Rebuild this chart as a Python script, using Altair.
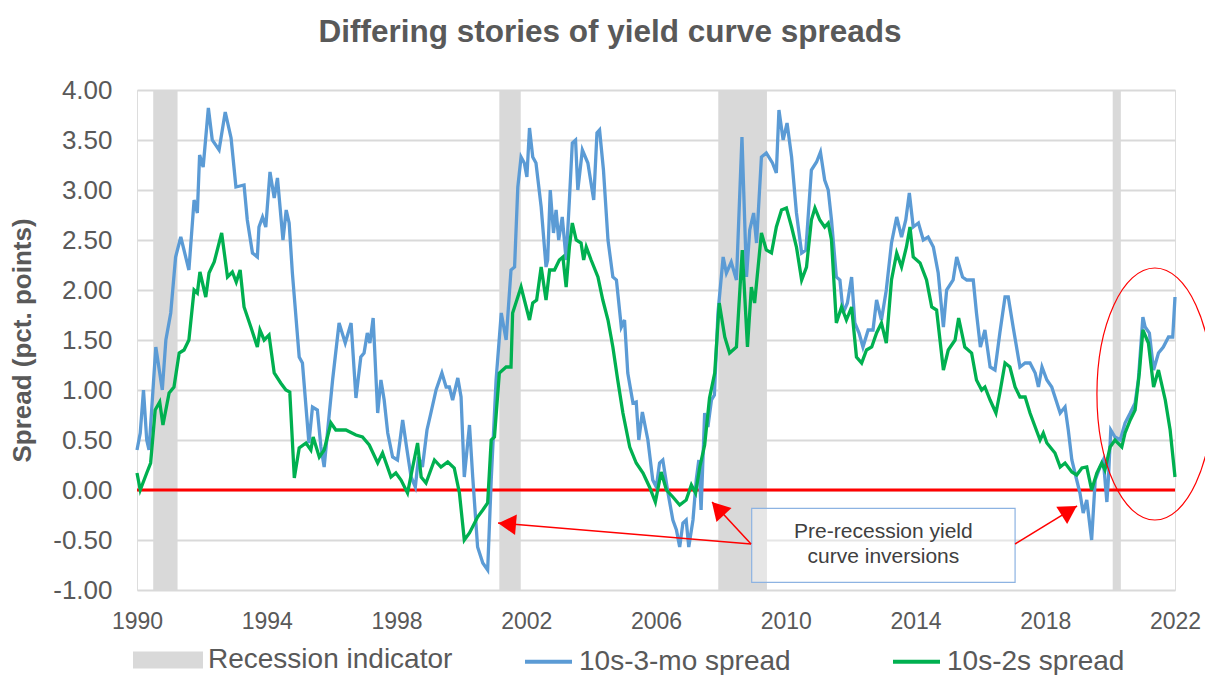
import altair as alt
import pandas as pd

# ---------------- data ----------------
blue_year = [1990.00, 1990.10, 1990.20, 1990.30, 1990.37, 1990.58, 1990.78, 1990.89, 1991.04, 1991.19,
             1991.35, 1991.60, 1991.76, 1991.86, 1991.93, 1992.04, 1992.20, 1992.32, 1992.53, 1992.72,
             1992.90, 1993.05, 1993.30, 1993.40, 1993.56, 1993.71, 1993.76, 1993.87, 1993.97, 1994.10,
             1994.23, 1994.33, 1994.50, 1994.60, 1994.69, 1994.79, 1995.00, 1995.10, 1995.30, 1995.41,
             1995.56, 1995.67, 1995.77, 1995.93, 1996.03, 1996.23, 1996.42, 1996.60, 1996.75, 1996.90,
             1997.00, 1997.10, 1997.18, 1997.28, 1997.42, 1997.52, 1997.62, 1997.73, 1997.88, 1998.03,
             1998.19, 1998.31, 1998.45, 1998.58, 1998.68, 1998.80, 1998.94, 1999.06, 1999.22, 1999.40,
             1999.53, 1999.63, 1999.73, 1999.89, 1999.99, 2000.09, 2000.25, 2000.35, 2000.50, 2000.66,
             2000.81, 2000.92, 2001.07, 2001.23, 2001.38, 2001.53, 2001.64, 2001.74, 2001.84, 2001.94,
             2002.02, 2002.10, 2002.20, 2002.30, 2002.46, 2002.61, 2002.66, 2002.74, 2002.84, 2002.92,
             2003.00, 2003.11, 2003.23, 2003.33, 2003.42, 2003.52, 2003.59, 2003.73, 2003.90, 2004.08,
             2004.18, 2004.26, 2004.38, 2004.52, 2004.67, 2004.78, 2004.93, 2005.03, 2005.13, 2005.29,
             2005.39, 2005.47, 2005.58, 2005.75, 2005.90, 2006.01, 2006.11, 2006.21, 2006.37, 2006.52,
             2006.63, 2006.73, 2006.83, 2006.93, 2007.01, 2007.14, 2007.24, 2007.32, 2007.39, 2007.50,
             2007.60, 2007.71, 2007.80, 2007.91, 2008.07, 2008.17, 2008.32, 2008.48, 2008.65, 2008.79,
             2008.89, 2009.01, 2009.10, 2009.25, 2009.40, 2009.59, 2009.71, 2009.79, 2009.92, 2010.04,
             2010.18, 2010.33, 2010.49, 2010.62, 2010.79, 2010.95, 2011.07, 2011.20, 2011.31, 2011.41,
             2011.56, 2011.67, 2011.77, 2011.90, 2012.03, 2012.13, 2012.26, 2012.38, 2012.54, 2012.69,
             2012.80, 2012.95, 2013.10, 2013.26, 2013.42, 2013.57, 2013.70, 2013.81, 2013.93, 2014.09,
             2014.24, 2014.39, 2014.55, 2014.70, 2014.86, 2014.96, 2015.16, 2015.27, 2015.45, 2015.58,
             2015.78, 2015.88, 2016.00, 2016.14, 2016.30, 2016.45, 2016.60, 2016.76, 2016.86, 2017.01,
             2017.22, 2017.38, 2017.53, 2017.69, 2017.79, 2017.90, 2018.05, 2018.20, 2018.30, 2018.46,
             2018.61, 2018.71, 2018.82, 2018.97, 2019.07, 2019.17, 2019.28, 2019.43, 2019.54, 2019.69,
             2019.79, 2019.90, 2019.95, 2020.02, 2020.15, 2020.31, 2020.46, 2020.62, 2020.77, 2020.87,
             2021.01, 2021.08, 2021.21, 2021.34, 2021.49, 2021.64, 2021.80, 2021.93, 2022.00]
blue_val = [0.40, 0.57, 1.00, 0.50, 0.40, 1.43, 1.00, 1.50, 1.77, 2.33,
            2.53, 2.20, 2.90, 2.77, 3.35, 3.23, 3.82, 3.50, 3.40, 3.78,
            3.52, 3.03, 3.05, 2.70, 2.37, 2.33, 2.63, 2.73, 2.63, 3.18,
            2.92, 3.12, 2.50, 2.80, 2.67, 2.17, 1.33, 1.27, 0.47, 0.83,
            0.80, 0.43, 0.23, 0.77, 1.10, 1.67, 1.47, 1.67, 0.92, 1.33,
            1.37, 1.57, 1.47, 1.72, 0.77, 1.10, 0.90, 0.57, 0.33, 0.30,
            0.70, 0.43, 0.13, 0.03, 0.33, 0.23, 0.60, 0.77, 1.00, 1.17,
            1.03, 1.03, 0.90, 1.12, 0.93, 0.13, 0.65, 0.13, -0.57, -0.73,
            -0.80, 0.10, 1.10, 1.77, 1.50, 2.20, 2.23, 3.03, 3.33, 3.27,
            3.13, 3.62, 3.33, 3.27, 2.83, 2.23, 2.30, 3.00, 2.57, 2.80,
            2.50, 2.73, 2.30, 2.90, 3.47, 3.50, 3.00, 3.40, 3.27, 2.90,
            3.57, 3.60, 3.20, 2.50, 2.13, 2.10, 1.63, 1.70, 1.17, 0.87,
            0.88, 0.50, 0.78, 0.50, 0.10, 0.03, 0.27, 0.30, -0.03, -0.30,
            -0.40, -0.57, -0.33, -0.30, -0.57, -0.30, 0.10, 0.30, -0.20, 0.77,
            0.63, 0.90, 0.95, 1.77, 2.33, 2.17, 2.28, 2.10, 3.53, 2.13,
            2.60, 2.77, 2.47, 3.33, 3.37, 3.27, 3.17, 3.80, 3.50, 3.67,
            3.33, 2.77, 2.37, 2.40, 3.20, 3.28, 3.38, 3.10, 3.00, 2.70,
            2.13, 2.10, 1.77, 1.87, 2.13, 1.67, 1.57, 1.43, 1.60, 1.60,
            1.90, 1.70, 2.00, 2.47, 2.73, 2.53, 2.70, 2.97, 2.63, 2.67,
            2.50, 2.53, 2.43, 2.17, 1.63, 2.00, 2.10, 2.33, 2.13, 2.10,
            2.10, 1.77, 1.43, 1.60, 1.23, 1.20, 1.57, 1.93, 1.93, 1.63,
            1.23, 1.27, 1.27, 1.17, 1.03, 1.23, 1.10, 1.03, 0.93, 0.77,
            0.83, 0.60, 0.30, 0.10, -0.03, -0.23, -0.10, -0.50, 0.10, 0.23,
            0.30, -0.12, 0.13, 0.60, 0.53, 0.50, 0.67, 0.77, 0.87, 1.10,
            1.73, 1.63, 1.57, 1.20, 1.37, 1.43, 1.53, 1.53, 1.93]

green_year = [1990.00, 1990.10, 1990.30, 1990.42, 1990.56, 1990.70, 1990.80, 1990.99, 1991.14, 1991.30,
              1991.45, 1991.60, 1991.76, 1991.86, 1991.94, 1992.12, 1992.22, 1992.38, 1992.61, 1992.79,
              1992.94, 1993.06, 1993.18, 1993.30, 1993.51, 1993.71, 1993.79, 1993.92, 1994.07, 1994.23,
              1994.43, 1994.59, 1994.71, 1994.85, 1995.00, 1995.21, 1995.36, 1995.43, 1995.62, 1995.77,
              1995.98, 1996.13, 1996.44, 1996.75, 1996.95, 1997.16, 1997.42, 1997.57, 1997.83, 1997.98,
              1998.14, 1998.34, 1998.50, 1998.65, 1998.76, 1998.91, 1999.17, 1999.37, 1999.58, 1999.78,
              1999.94, 2000.09, 2000.25, 2000.50, 2000.66, 2000.81, 2000.92, 2001.02, 2001.17, 2001.38,
              2001.53, 2001.58, 2001.84, 2002.10, 2002.20, 2002.32, 2002.46, 2002.61, 2002.72, 2002.87,
              2003.02, 2003.13, 2003.23, 2003.33, 2003.42, 2003.54, 2003.69, 2003.77, 2003.85, 2004.00,
              2004.21, 2004.36, 2004.52, 2004.67, 2004.82, 2004.98, 2005.19, 2005.39, 2005.60, 2005.80,
              2005.98, 2006.16, 2006.32, 2006.52, 2006.73, 2006.93, 2007.09, 2007.22, 2007.35, 2007.50,
              2007.65, 2007.81, 2007.95, 2008.12, 2008.27, 2008.48, 2008.66, 2008.82, 2008.94, 2009.04,
              2009.25, 2009.40, 2009.56, 2009.71, 2009.87, 2010.02, 2010.18, 2010.33, 2010.49, 2010.64,
              2010.79, 2010.90, 2011.05, 2011.20, 2011.31, 2011.41, 2011.56, 2011.72, 2011.87, 2012.03,
              2012.18, 2012.34, 2012.49, 2012.65, 2012.80, 2012.95, 2013.10, 2013.26, 2013.42, 2013.57,
              2013.72, 2013.83, 2013.93, 2014.14, 2014.34, 2014.50, 2014.65, 2014.86, 2015.01, 2015.22,
              2015.33, 2015.52, 2015.73, 2015.88, 2016.04, 2016.14, 2016.30, 2016.48, 2016.60, 2016.76,
              2016.91, 2017.07, 2017.22, 2017.38, 2017.53, 2017.69, 2017.84, 2017.94, 2018.05, 2018.30,
              2018.46, 2018.61, 2018.82, 2018.97, 2019.13, 2019.28, 2019.43, 2019.59, 2019.74, 2019.84,
              2020.00, 2020.15, 2020.36, 2020.46, 2020.62, 2020.77, 2020.90, 2021.01, 2021.18, 2021.34,
              2021.49, 2021.70, 2021.85, 2022.00]
green_val = [0.17, 0.00, 0.17, 0.27, 0.80, 0.88, 0.65, 0.97, 1.03, 1.37,
             1.40, 1.50, 2.00, 1.97, 2.18, 1.93, 2.17, 2.28, 2.57, 2.13,
             2.18, 2.08, 2.20, 1.83, 1.63, 1.43, 1.60, 1.50, 1.55, 1.17,
             1.07, 1.00, 0.98, 0.12, 0.42, 0.47, 0.40, 0.53, 0.33, 0.40,
             0.67, 0.60, 0.60, 0.55, 0.53, 0.45, 0.27, 0.37, 0.13, 0.17,
             0.10, -0.03, 0.23, 0.47, 0.13, 0.07, 0.30, 0.23, 0.28, 0.22,
             -0.03, -0.50, -0.43, -0.27, -0.20, -0.13, 0.50, 0.53, 1.17, 1.23,
             1.23, 1.77, 2.03, 1.70, 1.87, 1.90, 2.23, 1.90, 2.20, 2.20,
             2.30, 2.33, 2.03, 2.43, 2.67, 2.50, 2.47, 2.30, 2.43, 2.30,
             2.13, 1.90, 1.70, 1.43, 1.10, 0.77, 0.43, 0.27, 0.17, 0.03,
             -0.12, 0.18, 0.00, -0.07, -0.15, -0.10, 0.05, -0.03, 0.23, 0.45,
             0.92, 1.17, 1.87, 1.53, 1.37, 1.43, 2.40, 1.43, 2.03, 1.87,
             2.57, 2.40, 2.37, 2.63, 2.80, 2.82, 2.63, 2.43, 2.10, 2.23,
             2.70, 2.82, 2.70, 2.63, 2.67, 2.50, 1.67, 1.83, 1.70, 1.83,
             1.33, 1.27, 1.40, 1.43, 1.57, 1.67, 1.47, 2.10, 2.37, 2.23,
             2.43, 2.63, 2.33, 2.27, 2.10, 1.83, 1.80, 1.20, 1.40, 1.50,
             1.72, 1.43, 1.37, 1.10, 1.00, 1.03, 0.90, 0.77, 0.97, 1.27,
             1.23, 1.03, 0.93, 0.93, 0.77, 0.63, 0.50, 0.57, 0.47, 0.37,
             0.23, 0.27, 0.18, 0.15, 0.22, 0.23, 0.00, 0.17, 0.27, 0.20,
             0.43, 0.50, 0.43, 0.57, 0.70, 0.80, 1.17, 1.60, 1.47, 1.03,
             1.20, 0.90, 0.60, 0.13]

recession_start = [1990.50, 2001.17, 2007.92, 2020.08]
recession_end = [1991.25, 2001.83, 2009.42, 2020.33]

x_ticks = [1990, 1994, 1998, 2002, 2006, 2010, 2014, 2018, 2022]
y_ticks = [-1.0, -0.5, 0.0, 0.5, 1.0, 1.5, 2.0, 2.5, 3.0, 3.5, 4.0]

series_blue = "10s-3-mo spread"
series_green = "10s-2s spread"
recession_label = "Recession indicator"

# annotation (in data units)
note_lines = ["Pre-recession yield", "curve inversions"]
note_year = [2013.01, 2013.01]
note_val = [-0.417, -0.667]
box_x = [2008.95]
box_x2 = [2017.07]
box_y = [-0.183]
box_y2 = [-0.923]
arrow_x = [2008.93, 2008.93, 2017.07]
arrow_y = [-0.54, -0.54, -0.54]
arrow_x2 = [2001.13, 2007.73, 2018.98]
arrow_y2 = [-0.33, -0.12, -0.16]
head_x = [2001.41, 2007.91, 2018.74]
head_y = [-0.34, -0.186, -0.207]
head_angle = [275, 317, 58]
ellipse_x = [2021.38]
ellipse_y = [0.96]

# ---------------- styling ----------------
GREY_TXT = "#595959"
FONT = "Liberation Sans"
BLUE = "#5B9BD5"
GREEN = "#00B050"
BAND = "#D9D9D9"
W, H = 1038, 500

xs = alt.Scale(domain=[1990, 2022], nice=False, zero=False)
ys = alt.Scale(domain=[-1, 4], nice=False, zero=False)

blue_df = pd.DataFrame({"year": blue_year, "value": blue_val, "series": series_blue})
green_df = pd.DataFrame({"year": green_year, "value": green_val, "series": series_green})
rec_df = pd.DataFrame({"start": recession_start, "end": recession_end,
                       "lo": min(y_ticks), "hi": max(y_ticks), "kind": recession_label})

x_axis = alt.Axis(values=x_ticks, format="d", title=None, grid=False, ticks=False, domain=False,
                  labelFlush=False, labelOverlap=False,
                  labelFontSize=23, labelColor=GREY_TXT, labelFont=FONT, labelPadding=20)
y_axis = alt.Axis(values=y_ticks, title="Spread (pct. points)", grid=True,
                  labelExpr="(datum.value < 0 ? '-' : '') + format(abs(datum.value), '.2f')",
                  labelFlush=False, labelOverlap=False,
                  gridColor="#D9D9D9", gridWidth=2, ticks=False, domain=False,
                  labelFontSize=26, labelColor=GREY_TXT, labelFont=FONT, labelPadding=25,
                  titleFontSize=26, titleFont=FONT, titleFontWeight="bold", titleColor=GREY_TXT,
                  titleX=-115, titleY=250, titleAngle=270, titleAlign="center", titleBaseline="middle")

bands = alt.Chart(rec_df).mark_rect(color=BAND).encode(
    x=alt.X("start:Q", scale=xs, axis=x_axis),
    x2="end:Q",
    y=alt.Y("lo:Q", scale=ys, axis=y_axis),
    y2="hi:Q",
    fill=alt.Fill("kind:N", scale=alt.Scale(domain=[recession_label], range=[BAND]),
                  legend=alt.Legend(orient="none", legendX=-4, legendY=535, title=None,
                                    symbolType="M-1,-0.24H1V0.24H-1Z", symbolSize=4900,
                                    symbolStrokeWidth=0, labelFontSize=28, labelFont=FONT,
                                    labelColor=GREY_TXT, labelOffset=5, labelLimit=500)),
)

zero = alt.Chart(pd.DataFrame({"v": [0.0]})).mark_rule(color="#FF0000", strokeWidth=3).encode(
    y=alt.Y("v:Q", scale=ys)
)

stroke_scale = alt.Scale(domain=[series_blue, series_green], range=[BLUE, GREEN])
line_legend = alt.Legend(orient="none", legendX=386, legendY=546, direction="horizontal", title=None,
                         symbolType="stroke", symbolSize=2209, symbolStrokeWidth=4,
                         labelFontSize=28, labelFont=FONT, labelColor=GREY_TXT, labelOffset=5,
                         labelLimit=500, columnPadding=94)

blue_line = alt.Chart(blue_df).mark_line(strokeWidth=3.3).encode(
    x=alt.X("year:Q", scale=xs), y=alt.Y("value:Q", scale=ys),
    stroke=alt.Stroke("series:N", scale=stroke_scale, legend=line_legend),
)
green_line = alt.Chart(green_df).mark_line(strokeWidth=3.3).encode(
    x=alt.X("year:Q", scale=xs), y=alt.Y("value:Q", scale=ys),
    stroke=alt.Stroke("series:N", scale=stroke_scale, legend=line_legend),
)

box = alt.Chart(pd.DataFrame({"x": box_x, "x2": box_x2, "y": box_y, "y2": box_y2})).mark_rect(
    fill="white", fillOpacity=0.35, stroke="#8DB3E2", strokeWidth=1.2
).encode(x=alt.X("x:Q", scale=xs), x2="x2:Q", y=alt.Y("y:Q", scale=ys), y2="y2:Q")

note = alt.Chart(pd.DataFrame({"x": note_year, "y": note_val, "t": note_lines})).mark_text(
    fontSize=21, font=FONT, color="#404040", align="center", baseline="middle"
).encode(x=alt.X("x:Q", scale=xs), y=alt.Y("y:Q", scale=ys), text="t:N")

arrows = alt.Chart(pd.DataFrame({"x": arrow_x, "y": arrow_y, "x2": arrow_x2, "y2": arrow_y2})).mark_rule(
    color="#FF0000", strokeWidth=1.5
).encode(x=alt.X("x:Q", scale=xs), y=alt.Y("y:Q", scale=ys), x2="x2:Q", y2="y2:Q")

heads = alt.Chart(pd.DataFrame({"x": head_x, "y": head_y, "a": head_angle})).mark_point(
    shape="triangle-up", filled=True, color="#FF0000", size=420, opacity=1
).encode(x=alt.X("x:Q", scale=xs), y=alt.Y("y:Q", scale=ys), angle=alt.Angle("a:Q", scale=None))

ellipse = alt.Chart(pd.DataFrame({"x": ellipse_x, "y": ellipse_y})).mark_point(
    shape="M-0.46,0A0.46,1,0,1,0,0.46,0A0.46,1,0,1,0,-0.46,0Z", filled=False,
    color="#FF0000", strokeWidth=1.2, size=63504, opacity=1
).encode(x=alt.X("x:Q", scale=xs), y=alt.Y("y:Q", scale=ys))

chart = alt.layer(bands, zero, blue_line, green_line, box, note, arrows, heads, ellipse).properties(
    width=W, height=H,
    title=alt.TitleParams("Differing stories of yield curve spreads", fontSize=31.5, fontWeight="bold",
                          font=FONT, color=GREY_TXT, anchor="middle", dx=-46, offset=29),
    autosize=alt.AutoSizeParams(type="none"),
    padding={"left": 129, "top": 82, "right": 30, "bottom": 85},
).configure_view(stroke=None).configure(background="white")

chart.save("out.html", embed_options={"renderer": "svg", "actions": False})
